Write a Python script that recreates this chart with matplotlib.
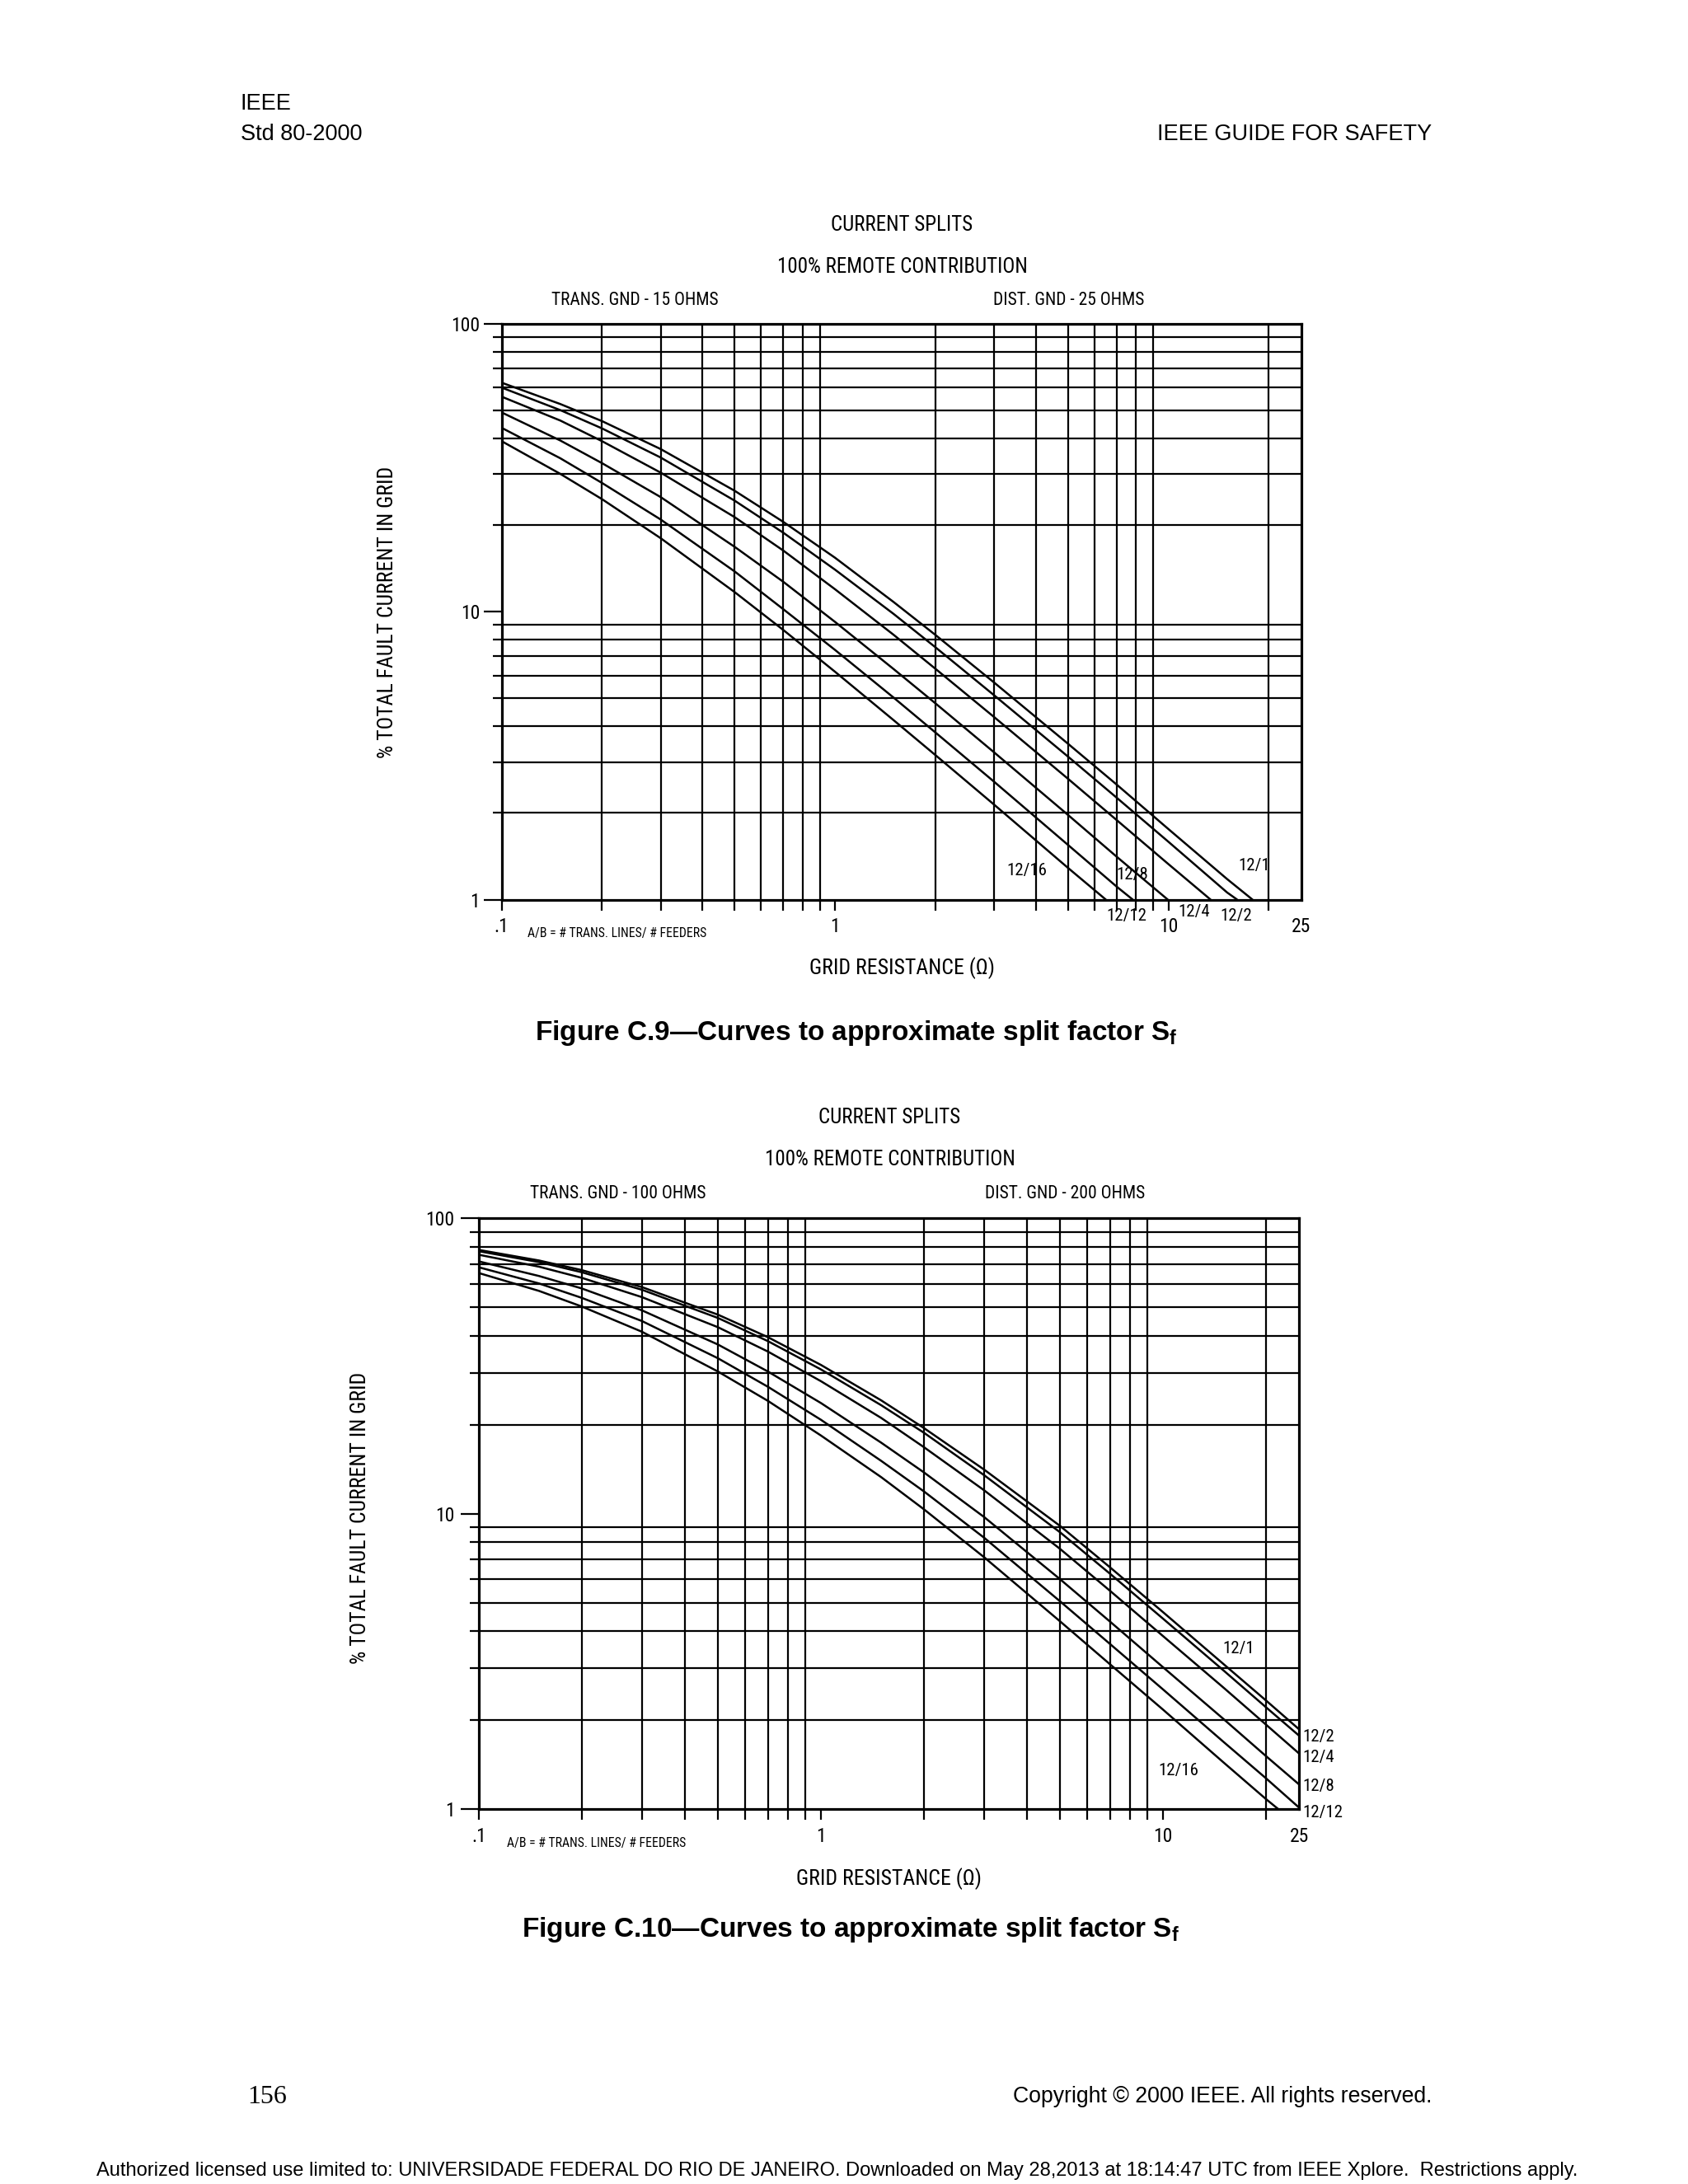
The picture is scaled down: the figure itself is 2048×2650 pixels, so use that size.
import matplotlib
matplotlib.use('Agg')
import matplotlib.pyplot as plt
from matplotlib import font_manager
from matplotlib.ticker import FixedLocator, FixedFormatter, NullFormatter

W, H = 2048, 2650

# grid resistance (ohm) at which the curves were read
resistance = [0.1, 0.15, 0.2, 0.3, 0.5, 0.7, 1, 1.5, 2, 3, 5, 7, 10, 15, 20, 25]
ratio_labels = ['12/1', '12/2', '12/4', '12/8', '12/12', '12/16']

# Figure C.9 - trans. gnd 15 ohms, dist. gnd 25 ohms (% of total fault current)
c9_12_1 = [62.4, 52.6, 45.9, 36.7, 26.3, 20.5, 15.4, 10.8, 8.31, 5.68, 3.48, 2.51, 1.76, 1.18]
c9_12_2 = [60.0, 50.1, 43.3, 34.3, 24.3, 18.8, 14.0, 9.82, 7.53, 5.13, 3.14, 2.26, 1.59, 1.06]
c9_12_4 = [55.8, 46.1, 39.1, 30.4, 21.3, 16.3, 11.97, 8.31, 6.34, 4.31, 2.63, 1.89, 1.33]
c9_12_8 = [49.2, 39.3, 32.8, 25.0, 16.8, 12.7, 9.22, 6.32, 4.81, 3.25, 1.97, 1.41]
c9_12_12 = [43.5, 34.1, 28.0, 20.9, 13.8, 10.2, 7.37, 5.03, 3.81, 2.57, 1.55, 1.11]
c9_12_16 = [39.1, 30.1, 24.6, 18.0, 11.7, 8.64, 6.19, 4.20, 3.18, 2.14, 1.29]
c9_end_r = [17.9, 16.1, 13.4, 9.97, 7.83, 6.5]   # where each curve reaches 1 %

# Figure C.10 - trans. gnd 100 ohms, dist. gnd 200 ohms
c10_12_1 = [78.2, 72.0, 66.8, 58.5, 47.2, 39.6, 31.9, 24.2, 19.5, 14.1, 9.09, 6.58, 4.64, 3.10, 2.33, 1.86]
c10_12_2 = [77.4, 71.1, 65.7, 57.3, 46.0, 38.4, 30.8, 23.3, 18.8, 13.5, 8.65, 6.26, 4.41, 2.95, 2.21, 1.77]
c10_12_4 = [75.3, 68.6, 62.9, 54.1, 42.8, 35.4, 28.1, 21.1, 16.8, 12.0, 7.60, 5.48, 3.85, 2.58, 1.93, 1.54]
c10_12_8 = [71.5, 63.8, 57.9, 48.8, 37.4, 30.3, 23.7, 17.4, 13.8, 9.74, 6.0, 4.31, 3.02, 2.02, 1.51, 1.21]
c10_12_12 = [68.3, 60.2, 53.8, 44.9, 33.6, 26.9, 20.8, 15.1, 11.9, 8.29, 5.05, 3.62, 2.54, 1.69, 1.27, 1.01]
c10_12_16 = [65.3, 56.8, 50.3, 41.3, 30.3, 24.1, 18.4, 13.3, 10.35, 7.12, 4.32, 3.09, 2.17, 1.44, 1.08]
c10_end_r = [None, None, None, None, None, 21.7]

# axis ticks
x_major = [0.1, 1, 10]
x_major_labels = ['.1', '1', '10']
x_end_label = '25'
x_grid = [0.2, 0.3, 0.4, 0.5, 0.6, 0.7, 0.8, 0.9, 2, 3, 4, 5, 6, 7, 8, 9, 20]
y_major = [1, 10, 100]
y_major_labels = ['1', '10', '100']
y_grid = [2, 3, 4, 5, 6, 7, 8, 9, 20, 30, 40, 50, 60, 70, 80, 90]

# narrow "CAD" looking font if one is installed
available = {f.name for f in font_manager.fontManager.ttflist}
NARROW = 'DejaVu Sans'
for name in ['Liberation Sans Narrow', 'Roboto Condensed', 'Open Sans Condensed']:
    if name in available:
        NARROW = name
        break
nfont = dict(family=NARROW, fontstretch='condensed')

plt.rcParams['mathtext.fontset'] = 'custom'
plt.rcParams['mathtext.rm'] = 'Liberation Sans'
plt.rcParams['mathtext.bf'] = 'Liberation Sans:bold'

fig = plt.figure(figsize=(W / 100, H / 100), dpi=100)
fig.patch.set_facecolor('white')


def fpos(x, y):
    return x / W, 1 - y / H


def setup(ax, ylab_pad, xlab_pad):
    ax.set_xscale('log')
    ax.set_yscale('log')
    ax.set_xlim(0.1, 25)
    ax.set_ylim(1, 100)
    ax.xaxis.set_major_locator(FixedLocator(x_major))
    ax.xaxis.set_major_formatter(FixedFormatter(x_major_labels))
    ax.xaxis.set_minor_locator(FixedLocator(x_grid))
    ax.xaxis.set_minor_formatter(NullFormatter())
    ax.yaxis.set_major_locator(FixedLocator(y_major))
    ax.yaxis.set_major_formatter(FixedFormatter(y_major_labels))
    ax.yaxis.set_minor_locator(FixedLocator(y_grid))
    ax.yaxis.set_minor_formatter(NullFormatter())
    ax.grid(False, which='major')
    ax.grid(True, which='minor', color='black', linewidth=1.6)
    ax.tick_params(which='both', direction='out', color='black', width=1.6)
    ax.tick_params(axis='x', which='both', length=9, pad=xlab_pad, labelsize=17)
    ax.tick_params(axis='y', which='major', length=16, pad=ylab_pad, labelsize=17)
    ax.tick_params(axis='y', which='minor', length=8)
    for lab in ax.get_xticklabels() + ax.get_yticklabels():
        lab.set_fontfamily(NARROW)
        lab.set_fontstretch('condensed')
    for s in ax.spines.values():
        s.set_linewidth(2.3)
    ax.annotate(x_end_label, xy=(25, 0), xycoords=('data', 'axes fraction'),
                xytext=(0, -9 - xlab_pad), textcoords='offset points',
                ha='center', va='top', fontsize=17, **nfont)


def draw_curves(ax, curves, end_r):
    for vals, rend in zip(curves, end_r):
        xs = resistance[:len(vals)]
        ys = list(vals)
        if rend is not None:
            xs = xs + [rend]
            ys = ys + [1.0]
        ax.plot(xs, ys, color='black', linewidth=1.8, solid_capstyle='butt')


# ---------------- Figure C.9 ----------------
ax1 = fig.add_axes([608.5 / W, 1 - 1091.7 / H, 970 / W, 699 / H])
setup(ax1, ylab_pad=3, xlab_pad=6)
draw_curves(ax1, [c9_12_1, c9_12_2, c9_12_4, c9_12_8, c9_12_12, c9_12_16], c9_end_r)

c9_label_pos = [(18.1, 1.31), (16.0, 0.88), (11.97, 0.91), (7.8, 1.224), (7.5, 0.88), (3.77, 1.26)]
for lab, (lx, ly) in zip(ratio_labels, c9_label_pos):
    ax1.text(lx, ly, lab, ha='center', va='center', fontsize=15, clip_on=False, **nfont)

fig.text(*fpos(1094, 273), 'CURRENT SPLITS', ha='center', va='center', fontsize=18, **nfont)
fig.text(*fpos(1095, 324), '100% REMOTE CONTRIBUTION', ha='center', va='center', fontsize=18, **nfont)
fig.text(*fpos(770, 364), 'TRANS. GND - 15 OHMS', ha='center', va='center', fontsize=15.5, **nfont)
fig.text(*fpos(1297, 364), 'DIST. GND - 25 OHMS', ha='center', va='center', fontsize=15.5, **nfont)
fig.text(*fpos(470, 743), '% TOTAL FAULT CURRENT IN GRID', rotation=90, ha='center', va='center',
         fontsize=18.5, **nfont)
fig.text(*fpos(749, 1132), 'A/B = # TRANS. LINES/ # FEEDERS', ha='center', va='center', fontsize=11.3, **nfont)
fig.text(*fpos(1094, 1175), 'GRID RESISTANCE (\u03a9)', ha='center', va='center', fontsize=18.5, **nfont)
fig.text(*fpos(1039, 1262), 'Figure C.9\u2014Curves to approximate split factor S$_\\mathbf{f}$',
         ha='center', va='baseline', fontsize=24, family='Liberation Sans', fontweight='bold')

# ---------------- Figure C.10 ----------------
ax2 = fig.add_axes([580.8 / W, 1 - 2195 / H, 995.5 / W, 716.7 / H])
setup(ax2, ylab_pad=5, xlab_pad=7)
draw_curves(ax2, [c10_12_1, c10_12_2, c10_12_4, c10_12_8, c10_12_12, c10_12_16], c10_end_r)

c10_label_pos = [(16.6, 3.50), (25.6, 1.75), (25.6, 1.49), (25.6, 1.19), (25.6, 0.97), (11.1, 1.35)]
for lab, (lx, ly) in zip(ratio_labels, c10_label_pos):
    ha = 'left' if lx > 25 else 'center'
    ax2.text(lx, ly, lab, ha=ha, va='center', fontsize=15, clip_on=False, **nfont)

fig.text(*fpos(1079, 1356), 'CURRENT SPLITS', ha='center', va='center', fontsize=18, **nfont)
fig.text(*fpos(1080, 1407), '100% REMOTE CONTRIBUTION', ha='center', va='center', fontsize=18, **nfont)
fig.text(*fpos(750, 1449), 'TRANS. GND - 100 OHMS', ha='center', va='center', fontsize=15.5, **nfont)
fig.text(*fpos(1292, 1449), 'DIST. GND - 200 OHMS', ha='center', va='center', fontsize=15.5, **nfont)
fig.text(*fpos(437, 1842), '% TOTAL FAULT CURRENT IN GRID', rotation=90, ha='center', va='center',
         fontsize=18.5, **nfont)
fig.text(*fpos(724, 2237), 'A/B = # TRANS. LINES/ # FEEDERS', ha='center', va='center', fontsize=11.3, **nfont)
fig.text(*fpos(1079, 2280), 'GRID RESISTANCE (\u03a9)', ha='center', va='center', fontsize=18.5, **nfont)
fig.text(*fpos(1032, 2350), 'Figure C.10\u2014Curves to approximate split factor S$_\\mathbf{f}$',
         ha='center', va='baseline', fontsize=24, family='Liberation Sans', fontweight='bold')

# ---------------- page header / footer ----------------
fig.text(*fpos(292, 126), 'IEEE', ha='left', va='center', fontsize=19.5, family='Liberation Sans')
fig.text(*fpos(292, 163), 'Std 80-2000', ha='left', va='center', fontsize=19.5, family='Liberation Sans')
fig.text(*fpos(1737, 163), 'IEEE GUIDE FOR SAFETY', ha='right', va='center', fontsize=19.5,
         family='Liberation Sans')
fig.text(*fpos(300, 2544), '156', ha='left', va='center', fontsize=23, family='Liberation Serif')
fig.text(*fpos(1737, 2544), 'Copyright \u00a9 2000 IEEE. All rights reserved.', ha='right', va='center',
         fontsize=19.2, family='Liberation Sans')
fig.text(*fpos(1016, 2634), 'Authorized licensed use limited to: UNIVERSIDADE FEDERAL DO RIO DE JANEIRO. '
         'Downloaded on May 28,2013 at 18:14:47 UTC from IEEE Xplore.  Restrictions apply.',
         ha='center', va='center', fontsize=17, family='Liberation Sans')

fig.savefig('out.png', dpi=100, facecolor='white')
